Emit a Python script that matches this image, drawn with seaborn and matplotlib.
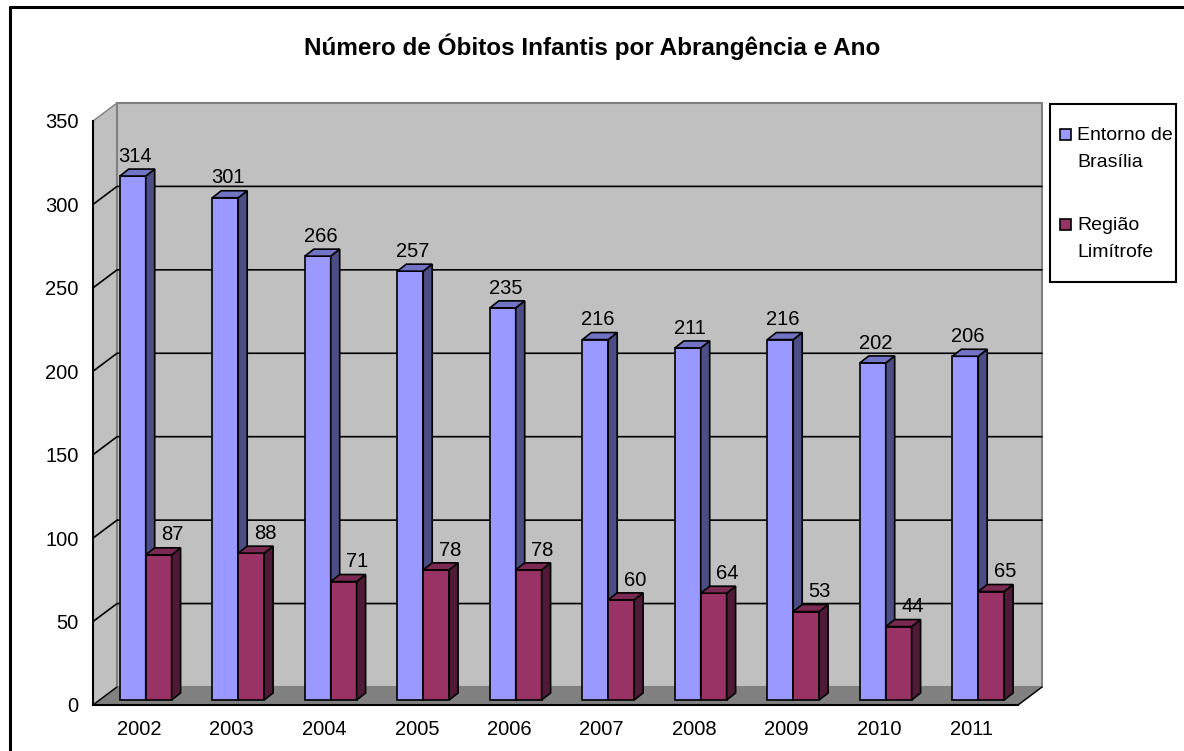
import numpy as np
import pandas as pd
import matplotlib
matplotlib.use("Agg")
import matplotlib.pyplot as plt
from matplotlib.patches import Polygon, Rectangle
from matplotlib.lines import Line2D
import seaborn as sns

# dados
anos = ["2002", "2003", "2004", "2005", "2006", "2007", "2008", "2009", "2010", "2011"]
entorno = [314, 301, 266, 257, 235, 216, 211, 216, 202, 206]
regiao = [87, 88, 71, 78, 78, 60, 64, 53, 44, 65]
series = ["Entorno de\nBrasília", "Região\nLimítrofe"]
yticks = [0, 50, 100, 150, 200, 250, 300, 350]

cores = ["#9999FF", "#993366"]
cores_lado = ["#4D4D85", "#4F1A35"]
cores_topo = ["#7373C6", "#7A2952"]

df = pd.DataFrame({
    "ano": anos * 2,
    "obitos": entorno + regiao,
    "serie": [series[0]] * len(anos) + [series[1]] * len(anos),
})

sns.set_style("white")
plt.rcParams["font.family"] = ["Liberation Sans", "DejaVu Sans"]
plt.rcParams["text.color"] = "black"
plt.rcParams["xtick.color"] = "black"
plt.rcParams["ytick.color"] = "black"

W, H = 1184, 751
fig = plt.figure(figsize=(W / 100, H / 100), dpi=100)
ax = fig.add_axes([93 / W, 46 / H, 925 / W, 584 / H])
ax.patch.set_visible(False)

# profundidade das paredes e das barras (em unidades de dados)
DX, DY = 0.26, 10.8
BX, BY = 0.07, 3.0
PX, PY = 0.097, 4.2
x0, x1 = -0.5, len(anos) - 0.5
ytop = yticks[-1]
desloc_rotulo = [-0.02, 0.1]

sns.barplot(data=df, x="ano", y="obitos", hue="serie", palette=cores, width=0.56,
            dodge=True, edgecolor="black", linewidth=1.2, saturation=1, legend=False, ax=ax)
barras = [p for p in ax.patches if isinstance(p, Rectangle)]

# parede esquerda, fundo e piso
ax.add_patch(Polygon([(x0, 0), (x0, ytop), (x0 + DX, ytop + DY), (x0 + DX, DY)],
                     facecolor="#C0C0C0", edgecolor="#808080", lw=1, zorder=0, clip_on=False))
ax.add_patch(Rectangle((x0 + DX, DY), x1 - x0, ytop, facecolor="#C0C0C0",
                       edgecolor="#808080", lw=1.5, zorder=0, clip_on=False))
ax.add_patch(Polygon([(x0, 0), (x1, 0), (x1 + DX, DY), (x0 + DX, DY)],
                     facecolor="#808080", edgecolor="#808080", lw=1, zorder=0.5, clip_on=False))
ax.plot([x1, x1 + DX], [0, DY], color="black", lw=1, zorder=0.6, clip_on=False)
ax.plot([x0, x0 + DX], [0, DY], color="black", lw=1, zorder=0.6, clip_on=False)

# linhas de grade
for v in yticks[1:-1]:
    ax.plot([x0, x0 + DX, x1 + DX], [v, v + DY, v + DY], color="black", lw=1.2,
            zorder=0.4, clip_on=False)

n = len(anos)
for i, p in enumerate(barras):
    k = i // n
    p.set_x(p.get_x() + BX)
    p.set_y(BY)
    p.set_zorder(3 + 2 * k)
    bx0 = p.get_x()
    bx1 = bx0 + p.get_width()
    top = BY + p.get_height()
    lado = Polygon([(bx1, BY), (bx1 + PX, BY + PY), (bx1 + PX, top + PY), (bx1, top)],
                   facecolor=cores_lado[k], edgecolor="black", lw=1.2, zorder=3.5 + 2 * k)
    topo = Polygon([(bx0, top), (bx1, top), (bx1 + PX, top + PY), (bx0 + PX, top + PY)],
                   facecolor=cores_topo[k], edgecolor="black", lw=1.2, zorder=3.5 + 2 * k)
    ax.add_patch(lado)
    ax.add_patch(topo)
    ax.text((bx0 + bx1 + PX) / 2 + desloc_rotulo[k], top + PY + 2.0, f"{int(p.get_height())}",
            ha="center", va="bottom", fontsize=14.5, zorder=10)

ax.set_xlim(x0, x1)
ax.set_ylim(0, ytop)
for s in ["top", "right"]:
    ax.spines[s].set_visible(False)
for s in ["left", "bottom"]:
    ax.spines[s].set_color("black")
    ax.spines[s].set_linewidth(1.5)
    ax.spines[s].set_zorder(1)

ax.set_yticks(yticks)
ax.set_yticklabels([str(v) for v in yticks])
ax.set_xticks(range(n))
ax.set_xticklabels(anos)
ax.set_xticks(np.arange(n + 1) - 0.5, minor=True)
ax.tick_params(axis="x", which="major", length=0, pad=11, labelsize=14.5)
ax.tick_params(axis="x", which="minor", length=6, width=1.5, direction="out")
ax.tick_params(axis="y", length=6.5, width=1.5, direction="out", pad=4, labelsize=14.5)
ax.set_xlabel("")
ax.set_ylabel("")

fig.text(592 / W, 1 - 47 / H, "Número de Óbitos Infantis por Abrangência e Ano",
         ha="center", va="center", fontsize=17.5, fontweight="bold")

# legenda
fig.add_artist(Rectangle((1050 / W, 1 - 282 / H), 126 / W, 178 / H, transform=fig.transFigure,
                         facecolor="white", edgecolor="black", lw=1.5))
for k, (rotulo, base) in enumerate(zip(series, [140, 230])):
    fig.add_artist(Rectangle((1060 / W, 1 - (base) / H), 11 / W, 11 / H,
                             transform=fig.transFigure, facecolor=cores[k],
                             edgecolor="black", lw=1.2))
    for j, linha in enumerate(rotulo.split("\n")):
        fig.text(1077 / W, 1 - (base + 27 * j) / H, linha, ha="left", va="baseline",
                 fontsize=14)

# moldura (apenas esquerda e topo visiveis)
fig.add_artist(Line2D([10 / W, 10 / W, 1], [0, 1 - 7 / H, 1 - 7 / H],
                      transform=fig.transFigure, color="black", lw=2.2))

fig.savefig("out.png", dpi=100)
